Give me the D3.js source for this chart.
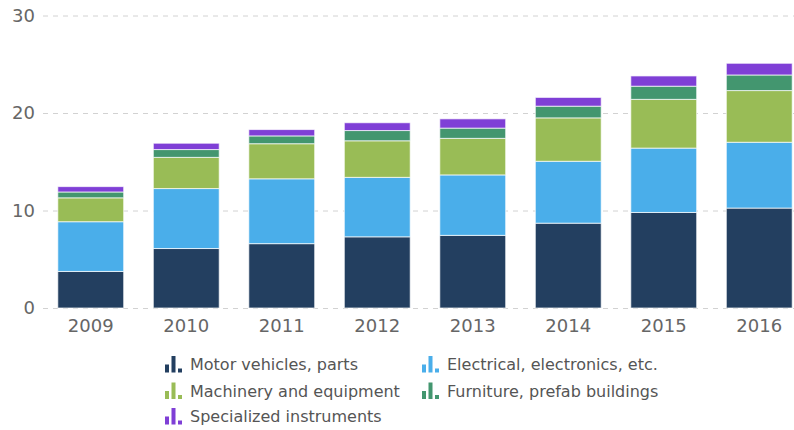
<!DOCTYPE html>
<html lang="en">
<head>
  <meta charset="UTF-8">
  <title>Stacked bars 2009-2016</title>
  <style>
    body { margin: 0; background: #fff; }
    svg text { font-family: "DejaVu Sans", sans-serif; }
  </style>
</head>
<body>
  <svg id="chart" width="794" height="430"></svg>

  <script src="https://d3js.org/d3.v7.min.js"></script>
  <script>
    // Data
    const years = ['2009', '2010', '2011', '2012', '2013', '2014', '2015', '2016']
    const motorVehicles = [3.75, 6.1, 6.6, 7.3, 7.45, 8.7, 9.8, 10.25]
    const electrical = [5.1, 6.15, 6.65, 6.1, 6.2, 6.35, 6.6, 6.75]
    const machinery = [2.45, 3.2, 3.6, 3.75, 3.75, 4.45, 5.0, 5.3]
    const furniture = [0.6, 0.8, 0.8, 1.05, 1.05, 1.2, 1.35, 1.6]
    const instruments = [0.55, 0.65, 0.65, 0.8, 0.95, 0.9, 1.05, 1.2]
    const yTicks = [0, 10, 20, 30]

    const seriesNames = [
      'Motor vehicles, parts',
      'Electrical, electronics, etc.',
      'Machinery and equipment',
      'Furniture, prefab buildings',
      'Specialized instruments'
    ]
    const seriesColors = ['#233f60', '#4aaeea', '#99bc56', '#43966f', '#7f3fd6']
    const seriesValues = [motorVehicles, electrical, machinery, furniture, instruments]

    // build rows for d3.stack
    const rows = years.map((year, i) => {
      const row = { year }
      seriesNames.forEach((name, s) => { row[name] = seriesValues[s][i] })
      return row
    })
    const stacked = d3.stack().keys(seriesNames)(rows)

    const svg = d3.select('#chart')
    const margin = { top: 15.5, left: 43, bottom: 122 }
    const plotBottom = 430 - margin.bottom

    const xscale = d3.scaleBand()
      .domain(years)
      .range([margin.left, 807])
      .paddingInner(0.31)
      .paddingOuter(0.155)

    const yscale = d3.scaleLinear()
      .domain([0, 30])
      .range([plotBottom, margin.top])

    // Grid lines + y labels
    const leftAxis = d3.axisLeft(yscale)
      .tickValues(yTicks)
      .tickSize(-(794 - margin.left))
      .tickPadding(8)

    const yAxis = svg.append('g')
      .attr('transform', `translate(${margin.left}, 0)`)
      .call(leftAxis)
    yAxis.select('.domain').remove()
    yAxis.selectAll('.tick line')
      .attr('stroke', '#d2d2d2')
      .attr('stroke-dasharray', '5,5')
    yAxis.selectAll('.tick text')
      .attr('fill', '#666')
      .attr('font-size', 18)

    // Bars
    svg.append('g')
      .selectAll('g')
      .data(stacked)
      .join('g')
      .attr('fill', (d, i) => seriesColors[i])
      .selectAll('rect')
      .data(d => d)
      .join('rect')
      .attr('x', d => xscale(d.data.year))
      .attr('y', d => yscale(d[1]))
      .attr('width', xscale.bandwidth())
      .attr('height', d => yscale(d[0]) - yscale(d[1]))
      .attr('stroke', '#fff')
      .attr('stroke-opacity', 0.7)
      .attr('stroke-width', 1)

    // X axis labels
    const bottomAxis = d3.axisBottom(xscale).tickSize(0).tickPadding(11)
    const xAxis = svg.append('g')
      .attr('transform', `translate(0, ${plotBottom})`)
      .call(bottomAxis)
    xAxis.select('.domain').remove()
    xAxis.selectAll('.tick text')
      .attr('fill', '#666')
      .attr('font-size', 18)

    // Legend
    const legendCols = [165, 422]
    const legendRows = [370, 396.5, 422]
    const legend = svg.append('g')
      .selectAll('g')
      .data(seriesNames)
      .join('g')
      .attr('transform', (d, i) => `translate(${legendCols[i % 2]}, ${legendRows[Math.floor(i / 2)]})`)

    // small bar-chart icon
    const iconBars = [[0, 8], [6.5, 16.5], [13, 4]]
    iconBars.forEach(([dx, h]) => {
      legend.append('rect')
        .attr('x', dx)
        .attr('y', 2.5 - h)
        .attr('width', 4)
        .attr('height', h)
        .attr('fill', (d, i) => seriesColors[i])
    })

    legend.append('text')
      .attr('x', 25)
      .attr('y', 0)
      .attr('font-size', 16)
      .attr('fill', '#555')
      .text(d => d)
  </script>
</body>
</html>
